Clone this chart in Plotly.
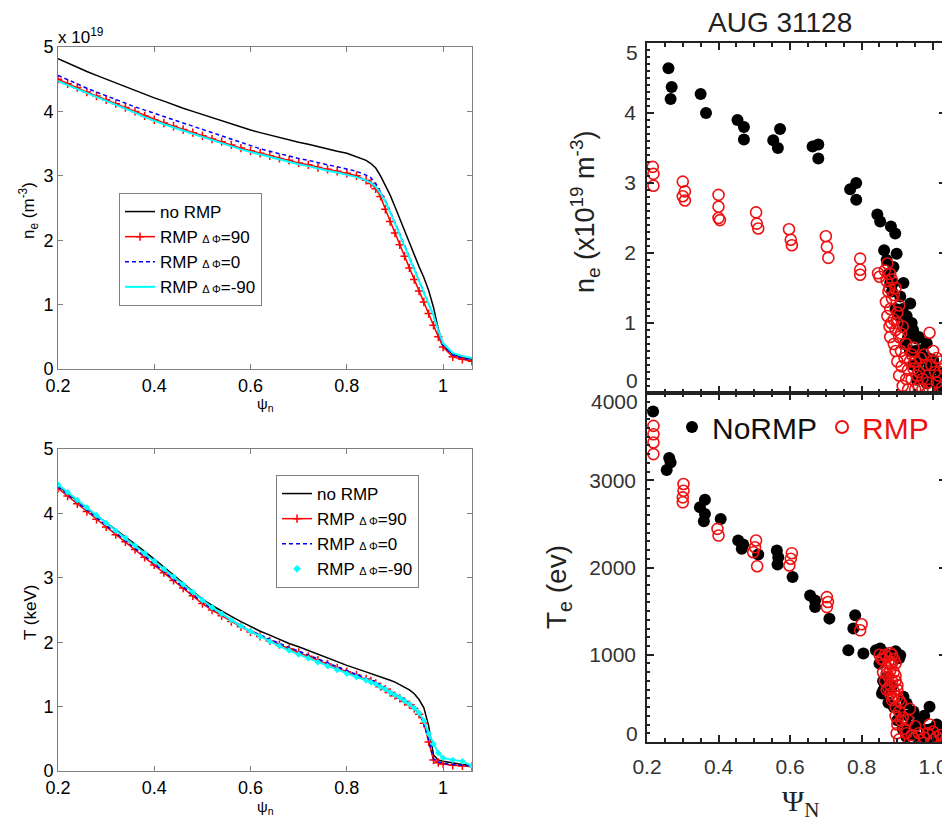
import plotly.graph_objects as go

# ---------------- data: simulation profiles (left panels) ----------------
PSI = [0.20, 0.22, 0.24, 0.26, 0.28, 0.30, 0.32, 0.34, 0.36, 0.38, 0.40, 0.42, 0.44,
       0.46, 0.48, 0.50, 0.52, 0.54, 0.56, 0.58, 0.60, 0.62, 0.64, 0.66, 0.68, 0.70,
       0.72, 0.74, 0.76, 0.78, 0.80, 0.82, 0.84, 0.85, 0.86, 0.87, 0.88, 0.89, 0.90,
       0.91, 0.92, 0.93, 0.94, 0.95, 0.96, 0.97, 0.98, 0.99, 1.00, 1.02, 1.04, 1.06]

# electron density, units of 1e19 m^-3
NE_NORMP = [4.82, 4.75, 4.69, 4.62, 4.56, 4.50, 4.44, 4.38, 4.32, 4.27, 4.21, 4.16, 4.10,
            4.05, 4.00, 3.95, 3.90, 3.85, 3.80, 3.76, 3.71, 3.67, 3.63, 3.59, 3.56, 3.52,
            3.49, 3.45, 3.42, 3.38, 3.35, 3.30, 3.24, 3.19, 3.12, 3.00, 2.86, 2.70, 2.52,
            2.33, 2.14, 1.96, 1.78, 1.59, 1.42, 1.22, 0.96, 0.62, 0.36, 0.23, 0.18, 0.15]
NE_DP90 = [4.50, 4.43, 4.37, 4.30, 4.24, 4.18, 4.12, 4.06, 4.00, 3.93, 3.87, 3.82, 3.77,
           3.72, 3.67, 3.62, 3.57, 3.53, 3.48, 3.43, 3.39, 3.35, 3.31, 3.27, 3.24, 3.20,
           3.17, 3.13, 3.10, 3.07, 3.04, 3.00, 2.93, 2.88, 2.80, 2.68, 2.48, 2.29, 2.11,
           1.93, 1.75, 1.57, 1.39, 1.21, 1.04, 0.86, 0.68, 0.50, 0.34, 0.19, 0.15, 0.12]
NE_DP0 = [4.56, 4.49, 4.43, 4.36, 4.30, 4.24, 4.18, 4.12, 4.07, 4.02, 3.97, 3.91, 3.86,
          3.81, 3.76, 3.71, 3.66, 3.61, 3.56, 3.51, 3.46, 3.42, 3.38, 3.34, 3.30, 3.27,
          3.24, 3.20, 3.17, 3.14, 3.11, 3.07, 3.01, 2.97, 2.88, 2.76, 2.62, 2.45, 2.28,
          2.10, 1.92, 1.74, 1.56, 1.39, 1.22, 1.04, 0.83, 0.58, 0.37, 0.22, 0.17, 0.14]
NE_DPM90 = [4.47, 4.41, 4.34, 4.28, 4.22, 4.16, 4.10, 4.04, 3.98, 3.91, 3.85, 3.80, 3.75,
            3.70, 3.65, 3.60, 3.55, 3.51, 3.46, 3.41, 3.37, 3.33, 3.29, 3.25, 3.22, 3.18,
            3.15, 3.11, 3.08, 3.05, 3.02, 2.98, 2.93, 2.89, 2.83, 2.73, 2.60, 2.44, 2.26,
            2.08, 1.90, 1.72, 1.54, 1.37, 1.20, 1.02, 0.83, 0.60, 0.40, 0.25, 0.20, 0.17]

# temperature, keV
T_NORMP = [4.43, 4.31, 4.20, 4.08, 3.97, 3.86, 3.75, 3.64, 3.53, 3.41, 3.29, 3.17, 3.04,
           2.92, 2.79, 2.67, 2.57, 2.48, 2.40, 2.32, 2.24, 2.17, 2.11, 2.04, 1.98, 1.93,
           1.87, 1.81, 1.75, 1.69, 1.64, 1.59, 1.54, 1.52, 1.49, 1.47, 1.44, 1.41, 1.38,
           1.34, 1.30, 1.26, 1.20, 1.11, 0.98, 0.70, 0.25, 0.17, 0.15, 0.12, 0.10, 0.09]
T_DP90 = [4.39, 4.27, 4.15, 4.03, 3.91, 3.79, 3.67, 3.56, 3.44, 3.32, 3.20, 3.08, 2.96,
          2.84, 2.72, 2.60, 2.50, 2.41, 2.32, 2.24, 2.16, 2.09, 2.02, 1.96, 1.90, 1.84,
          1.78, 1.72, 1.66, 1.60, 1.54, 1.49, 1.43, 1.40, 1.36, 1.31, 1.27, 1.22, 1.17,
          1.13, 1.08, 1.03, 0.97, 0.88, 0.74, 0.45, 0.17, 0.13, 0.11, 0.09, 0.08, 0.07]
T_DP0 = [4.41, 4.29, 4.17, 4.05, 3.93, 3.81, 3.69, 3.58, 3.46, 3.34, 3.22, 3.10, 2.98,
         2.86, 2.74, 2.62, 2.52, 2.43, 2.34, 2.26, 2.18, 2.11, 2.04, 1.98, 1.92, 1.86,
         1.80, 1.74, 1.68, 1.62, 1.56, 1.51, 1.45, 1.42, 1.38, 1.33, 1.29, 1.24, 1.19,
         1.15, 1.10, 1.05, 0.99, 0.90, 0.76, 0.48, 0.19, 0.14, 0.12, 0.10, 0.09, 0.08]
T_DPM90 = [4.45, 4.33, 4.21, 4.09, 3.97, 3.85, 3.73, 3.62, 3.50, 3.38, 3.26, 3.14, 3.02,
           2.90, 2.78, 2.65, 2.54, 2.44, 2.34, 2.25, 2.17, 2.09, 2.01, 1.94, 1.87, 1.81,
           1.75, 1.69, 1.63, 1.57, 1.51, 1.46, 1.41, 1.38, 1.35, 1.31, 1.27, 1.22, 1.18,
           1.14, 1.09, 1.04, 0.98, 0.90, 0.78, 0.58, 0.42, 0.28, 0.20, 0.17, 0.15, 0.08]

# ---------------- data: AUG 31128 measurements (right panels) ----------------
NE_NORMP_X = [0.260, 0.269, 0.266, 0.350, 0.365, 0.453, 0.471, 0.471, 0.572, 0.553, 0.566,
              0.663, 0.679, 0.679, 0.768, 0.785, 0.785, 0.844, 0.852, 0.882, 0.894, 0.863,
              0.898, 0.870, 0.889, 0.880, 0.908, 0.917, 0.888, 0.926, 0.936, 0.944, 0.926,
              0.954, 0.963, 0.944, 0.973, 0.982, 1.000, 0.990, 1.024, 0.954, 0.982, 1.010,
              1.029, 0.935, 0.875, 0.885, 0.895, 0.905, 0.915, 0.920, 0.930, 0.940, 0.950,
              0.960, 0.965, 0.975, 0.985, 0.995, 1.005, 1.015, 1.030, 0.945, 0.920, 0.960]
NE_NORMP_Y = [4.64, 4.37, 4.20, 4.27, 4.00, 3.90, 3.80, 3.62, 3.77, 3.61, 3.50,
              3.52, 3.55, 3.35, 2.91, 3.00, 2.76, 2.55, 2.45, 2.38, 2.28, 2.04,
              1.99, 1.90, 1.80, 1.57, 1.38, 1.57, 1.57, 1.04, 1.28, 0.90, 1.10,
              0.78, 0.61, 0.80, 0.52, 0.71, 0.47, 0.38, 0.28, 0.19, 0.14, 0.14,
              0.09, 0.60, 1.70, 1.45, 1.20, 1.10, 1.20, 0.95, 0.80, 1.00, 0.60,
              0.45, 0.30, 0.25, 0.50, 0.20, 0.35, 0.10, 0.20, 0.40, 0.70, 0.80]
NE_RMP_X = [0.216, 0.218, 0.218, 0.300, 0.306, 0.306, 0.300, 0.400, 0.400, 0.404, 0.400,
            0.505, 0.507, 0.511, 0.597, 0.602, 0.605, 0.700, 0.703, 0.707, 0.796, 0.796,
            0.796, 0.846, 0.850, 0.865, 0.870, 0.875, 0.868, 0.880, 0.885, 0.890, 0.878,
            0.895, 0.900, 0.905, 0.890, 0.910, 0.915, 0.920, 0.930, 0.925, 0.940, 0.945,
            0.950, 0.960, 0.970, 0.980, 0.990, 1.000, 1.005, 1.010, 1.020, 1.025, 0.960,
            0.975, 0.940, 0.895, 0.905, 0.885, 0.905, 0.915, 0.930, 0.872, 0.880, 0.878,
            0.890, 0.872, 0.883, 0.895, 0.900, 0.912, 0.925, 0.935, 0.945, 0.955, 0.965,
            0.985, 0.995, 1.010, 1.015, 1.030, 0.950, 0.970, 0.990, 0.900, 0.910, 0.880]
NE_RMP_Y = [3.23, 3.13, 2.96, 3.02, 2.88, 2.75, 2.81, 2.83, 2.66, 2.47, 2.50,
            2.58, 2.42, 2.35, 2.34, 2.19, 2.11, 2.24, 2.09, 1.93, 1.92, 1.76,
            1.69, 1.71, 1.66, 1.75, 1.60, 1.45, 1.30, 1.20, 1.35, 1.05, 0.95,
            0.90, 1.15, 0.80, 0.70, 0.60, 0.95, 0.50, 0.33, 0.70, 0.55, 0.35,
            0.45, 0.30, 0.20, 0.40, 0.86, 0.60, 0.30, 0.15, 0.45, 0.08, 0.10,
            0.55, 0.20, 1.50, 1.25, 1.62, 0.25, 0.10, 0.05, 1.85, 1.70, 1.50,
            1.40, 1.10, 1.00, 0.60, 0.45, 0.38, 0.20, 0.45, 0.65, 0.25, 0.50,
            0.15, 0.40, 0.50, 0.25, 0.35, 0.05, 0.05, 0.05, 1.00, 0.85, 0.80]

TE_NORMP_X = [0.217, 0.262, 0.266, 0.255, 0.362, 0.348, 0.362, 0.359, 0.406, 0.455, 0.469,
              0.465, 0.511, 0.563, 0.567, 0.565, 0.607, 0.656, 0.670, 0.670, 0.710, 0.782,
              0.777, 0.763, 0.805, 0.840, 0.852, 0.908, 0.857, 0.870, 0.926, 0.908, 0.990,
              0.963, 0.936, 0.982, 1.020, 0.954, 1.000, 1.038, 0.917, 0.884, 0.861, 0.865,
              0.895, 0.905, 0.850, 0.860, 0.875, 0.890, 0.900, 0.915, 0.930, 0.945, 0.955,
              0.975, 0.995, 1.010, 1.030, 0.925, 0.965, 0.985, 1.015]
TE_NORMP_Y = [3787, 3254, 3204, 3117, 2777, 2690, 2614, 2529, 2557, 2309, 2263,
              2214, 2149, 2195, 2118, 2035, 1890, 1680, 1623, 1546, 1414, 1452,
              1300, 1052, 1014, 1052, 1071, 995, 556, 746, 442, 328, 403,
              251, 175, 137, 99, 61, 42, 61, 518, 632, 594, 1020,
              1040, 960, 900, 700, 450, 400, 250, 150, 300, 350, 200,
              300, 150, 200, 100, 60, 30, 20, 30]
TE_RMP_X = [0.218, 0.218, 0.218, 0.218, 0.302, 0.302, 0.300, 0.300, 0.397, 0.400, 0.505,
            0.502, 0.497, 0.508, 0.605, 0.602, 0.598, 0.703, 0.706, 0.703, 0.800, 0.796,
            0.850, 0.860, 0.870, 0.880, 0.885, 0.870, 0.860, 0.875, 0.890, 0.895, 0.880,
            0.870, 0.890, 0.900, 0.885, 0.895, 0.905, 0.910, 0.915, 0.900, 0.898, 0.905,
            0.920, 0.930, 0.940, 0.950, 0.960, 0.975, 0.990, 1.000, 1.010, 1.025, 0.935,
            0.865, 0.880, 0.855, 0.865, 0.875, 0.885, 0.890, 0.895, 0.880, 0.870, 0.885,
            0.895, 0.900, 0.875, 0.880, 0.890, 0.900, 0.905, 0.895, 0.910, 0.925, 0.945,
            0.965, 0.985, 1.000, 1.020, 1.035]
TE_RMP_Y = [3623, 3528, 3433, 3300, 2957, 2880, 2804, 2747, 2443, 2366, 2309,
            2232, 2175, 2015, 2164, 2100, 2023, 1661, 1604, 1546, 1349, 1280,
            1000, 950, 980, 1020, 900, 850, 800, 750, 800, 700, 650,
            600, 580, 520, 480, 400, 350, 450, 280, 200, 100, 30,
            150, 250, 80, 180, 100, 50, 200, 120, 60, 30, 380,
            700, 900, 950, 1000, 920, 1000, 950, 900, 820, 780, 700,
            760, 650, 620, 550, 500, 600, 480, 300, 250, 100, 40,
            20, 100, 20, 80, 20]

# ---------------- figure ----------------
W, H = 950, 837
OFF = 8  # the page body margin shifts the plot by this many pixels
FONT = "Liberation Sans, Arial, sans-serif"
SMALL = "<span style='font-size:11px'>\u0394 \u03a6</span>"


def px(x):
    return (x - OFF) / W


def py(y):
    return 1 - (y - OFF) / H


fig = go.Figure()

# top-left: density
fig.add_trace(go.Scatter(x=PSI, y=NE_NORMP, mode="lines", name="no RMP",
                         line=dict(color="black", width=1.5), xaxis="x", yaxis="y", legend="legend"))
fig.add_trace(go.Scatter(x=PSI, y=NE_DP90, mode="lines+markers", name="RMP " + SMALL + "=90",
                         line=dict(color="red", width=1.5),
                         marker=dict(symbol="cross-thin", size=6, line=dict(color="red", width=1.5)),
                         xaxis="x", yaxis="y", legend="legend"))
fig.add_trace(go.Scatter(x=PSI, y=NE_DP0, mode="lines", name="RMP " + SMALL + "=0",
                         line=dict(color="blue", width=1.5, dash="4px,3px"), xaxis="x", yaxis="y", legend="legend"))
fig.add_trace(go.Scatter(x=PSI, y=NE_DPM90, mode="lines", name="RMP " + SMALL + "=-90",
                         line=dict(color="cyan", width=2), xaxis="x", yaxis="y", legend="legend"))

# bottom-left: temperature
fig.add_trace(go.Scatter(x=PSI, y=T_NORMP, mode="lines", name="no RMP",
                         line=dict(color="black", width=1.5), xaxis="x2", yaxis="y2", legend="legend2"))
fig.add_trace(go.Scatter(x=PSI, y=T_DP90, mode="lines+markers", name="RMP " + SMALL + "=90",
                         line=dict(color="red", width=1.5),
                         marker=dict(symbol="cross-thin", size=6, line=dict(color="red", width=1.5)),
                         xaxis="x2", yaxis="y2", legend="legend2"))
fig.add_trace(go.Scatter(x=PSI, y=T_DP0, mode="lines", name="RMP " + SMALL + "=0",
                         line=dict(color="blue", width=1.5, dash="4px,3px"), xaxis="x2", yaxis="y2", legend="legend2"))
fig.add_trace(go.Scatter(x=PSI, y=T_DPM90, mode="lines+markers", name="RMP " + SMALL + "=-90",
                         line=dict(color="cyan", width=2),
                         marker=dict(symbol="diamond", size=5, color="cyan"),
                         showlegend=False, xaxis="x2", yaxis="y2", legend="legend2"))
fig.add_trace(go.Scatter(x=[None], y=[None], mode="markers", name="RMP " + SMALL + "=-90",
                         marker=dict(symbol="diamond", size=6, color="cyan"),
                         xaxis="x2", yaxis="y2", legend="legend2"))

# right panels: measurements
fig.add_trace(go.Scatter(x=NE_NORMP_X, y=NE_NORMP_Y, mode="markers", showlegend=False,
                         marker=dict(symbol="circle", size=12, color="black"), xaxis="x3", yaxis="y3"))
fig.add_trace(go.Scatter(x=NE_RMP_X, y=NE_RMP_Y, mode="markers", showlegend=False,
                         marker=dict(symbol="circle-open", size=11, color="#ee1111", line=dict(width=1.6)),
                         xaxis="x3", yaxis="y3"))
fig.add_trace(go.Scatter(x=TE_NORMP_X, y=TE_NORMP_Y, mode="markers", name="NoRMP",
                         marker=dict(symbol="circle", size=12, color="black"), xaxis="x4", yaxis="y4",
                         legend="legend3"))
fig.add_trace(go.Scatter(x=TE_RMP_X, y=TE_RMP_Y, mode="markers",
                         name="<span style='color:#ee1111'>RMP</span>",
                         marker=dict(symbol="circle-open", size=11, color="#ee1111", line=dict(width=1.6)),
                         xaxis="x4", yaxis="y4", legend="legend3"))

left_ax = dict(showline=True, linecolor="#808080", linewidth=1, mirror="ticks", ticks="inside",
               ticklen=5, tickcolor="#808080", showgrid=False, zeroline=False, automargin=False,
               tickfont=dict(family=FONT, size=18, color="black"))
right_ax = dict(showline=True, linecolor="#222222", linewidth=1.5, mirror="ticks", ticks="inside",
                ticklen=7, tickwidth=1.5, tickcolor="#222222", showgrid=False, zeroline=False,
                automargin=False,
                tickfont=dict(family=FONT, size=21, color="#333333"), ticklabelstandoff=5)

LX = [px(58), px(472)]
RX = [px(647), px(946)]

fig.update_layout(
    template="none",
    width=W, height=H, margin=dict(l=0, r=0, t=0, b=0, pad=0, autoexpand=False),
    paper_bgcolor="white", plot_bgcolor="white",
    font=dict(family=FONT, color="black"),
    xaxis=dict(domain=LX, range=[0.2, 1.06], anchor="y", tickvals=[0.2, 0.4, 0.6, 0.8, 1.0],
               ticktext=["0.2", "0.4", "0.6", "0.8", "1"], **left_ax),
    yaxis=dict(domain=[py(369), py(47)], range=[0, 5], anchor="x", tickvals=[0, 1, 2, 3, 4, 5], **left_ax),
    xaxis2=dict(domain=LX, range=[0.2, 1.06], anchor="y2", tickvals=[0.2, 0.4, 0.6, 0.8, 1.0],
                ticktext=["0.2", "0.4", "0.6", "0.8", "1"], **left_ax),
    yaxis2=dict(domain=[py(771), py(449)], range=[0, 5], anchor="x2", tickvals=[0, 1, 2, 3, 4, 5], **left_ax),
    xaxis3=dict(domain=RX, range=[0.2, 1.036], anchor="y3", tickmode="linear", tick0=0.2, dtick=0.2,
                showticklabels=False,
                minor=dict(ticks="inside", ticklen=4, tickcolor="#222222", tick0=0.2, dtick=0.05),
                **right_ax),
    yaxis3=dict(domain=[py(393), py(43)], range=[0, 5], anchor="x3", tickmode="array",
                tickvals=[0, 1, 2, 3, 4, 5], ticktext=["", "1", "2", "3", "4", ""],
                minor=dict(ticks="inside", ticklen=3, tickcolor="#222222", tickmode="linear", tick0=0, dtick=0.1),
                **right_ax),
    xaxis4=dict(domain=RX, range=[0.2, 1.036], anchor="y4", tickmode="linear", tick0=0.2, dtick=0.2,
                tickformat=".1f",
                minor=dict(ticks="inside", ticklen=4, tickcolor="#222222", tick0=0.2, dtick=0.05),
                **right_ax),
    yaxis4=dict(domain=[py(742), py(393)], range=[0, 4000], anchor="x4", tickmode="array",
                tickvals=[0, 1000, 2000, 3000, 4000], ticktext=["", "1000", "2000", "3000", ""],
                minor=dict(ticks="inside", ticklen=3, tickcolor="#222222", tickmode="linear", tick0=0, dtick=100),
                **right_ax),
    legend=dict(x=px(119), y=py(193), xanchor="left", yanchor="top", bgcolor="white",
                bordercolor="#808080", borderwidth=1, font=dict(family=FONT, size=17, color="black"),
                itemwidth=30, tracegroupgap=0),
    legend2=dict(x=px(276), y=py(475), xanchor="left", yanchor="top", bgcolor="white",
                 bordercolor="#808080", borderwidth=1, font=dict(family=FONT, size=17, color="black"),
                 itemwidth=30, tracegroupgap=0),
    legend3=dict(x=px(672), y=py(401), xanchor="left", yanchor="top", orientation="h",
                 bgcolor="rgba(0,0,0,0)", borderwidth=0, font=dict(family=FONT, size=30, color="#111111"),
                 itemwidth=30, itemsizing="constant"),
)

ann = []


def note(text, x, y, size, color="black", family=FONT, angle=0, xanchor="center"):
    ann.append(dict(text=text, x=px(x), y=py(y), xref="paper", yref="paper", xanchor=xanchor,
                    yanchor="middle", textangle=angle, showarrow=False,
                    font=dict(family=family, size=size, color=color)))


# left panel texts
note("x 10<sup>19</sup>", 56, 36, 17, xanchor="left")
note("n<sub>e</sub> (m<sup>-3</sup>)", 28, 211, 17, angle=-90)
note("T (keV)", 30, 613, 17, angle=-90)
note("\u03c8<sub>n</sub>", 265, 404, 15)
note("\u03c8<sub>n</sub>", 265, 807, 15)
# right panel texts
note("AUG 31128", 780, 22, 28, color="#222222")
note("n<sub>e</sub> (x10<sup>19</sup> m<sup>-3</sup>)", 585, 212, 27, color="#222222", angle=-90)
note("T<sub>e</sub> (ev)", 558, 587, 28, color="#222222", angle=-90)
note("\u03a8<sub>N</sub>", 800, 803, 30, color="#222222", family="Liberation Serif, serif")
# shifted end tick labels of the right panels
for txt, yy in [("5", 53), ("0", 380), ("4000", 401), ("0", 733)]:
    note(txt, 640, yy, 21, color="#333333", xanchor="right")
fig.update_layout(annotations=ann)

fig.write_html("out.html")
